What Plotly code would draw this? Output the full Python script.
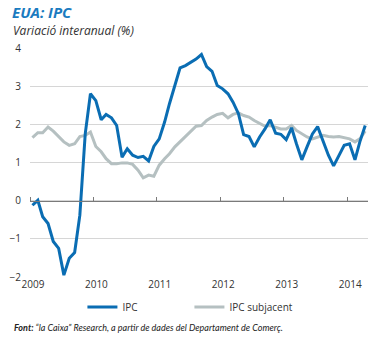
import plotly.graph_objects as go
import pandas as pd

months = pd.date_range("2009-01-01", periods=64, freq="MS") + pd.Timedelta(days=14)
months = [d.strftime("%Y-%m-%d") for d in months]

ipc = [-0.12, 0.01, -0.42, -0.60, -1.07, -1.25, -1.95, -1.51, -1.36, -0.38, 1.75, 2.80,
       2.62, 2.12, 2.26, 2.17, 1.97, 1.14, 1.36, 1.19, 1.13, 1.16, 1.04, 1.42,
       1.62, 2.06, 2.54, 3.02, 3.48, 3.54, 3.63, 3.71, 3.83, 3.51, 3.39, 3.02,
       2.93, 2.80, 2.58, 2.28, 1.73, 1.68, 1.41, 1.67, 1.88, 2.12, 1.77, 1.74,
       1.60, 1.91, 1.49, 1.07, 1.41, 1.75, 1.94, 1.54, 1.19, 0.91, 1.19, 1.45,
       1.49, 1.07, 1.54, 1.97]

core = [1.65, 1.78, 1.78, 1.93, 1.82, 1.68, 1.54, 1.45, 1.49, 1.68, 1.71, 1.80,
        1.42, 1.28, 1.10, 0.97, 0.97, 0.99, 0.99, 0.95, 0.80, 0.60, 0.67, 0.64,
        0.93, 1.10, 1.23, 1.41, 1.54, 1.68, 1.80, 1.95, 1.97, 2.10, 2.19, 2.26,
        2.29, 2.17, 2.26, 2.30, 2.23, 2.19, 2.10, 2.03, 1.95, 1.97, 1.93, 1.88,
        1.88, 1.97, 1.84, 1.75, 1.67, 1.62, 1.67, 1.71, 1.68, 1.67, 1.68, 1.65,
        1.62, 1.54, 1.62, 1.82]

year_ticks = ["2009-01-01", "2010-01-01", "2011-01-01", "2012-01-01", "2013-01-01", "2014-01-01"]
year_labels = ["2009", "2010", "2011", "2012", "2013", "2014"]
y_ticks = [-2, -1, 0, 1, 2, 3, 4]

BLUE = "#0a6db3"
GREY = "#b5c0c1"
FONT = "Open Sans"
FONT2 = "Lato"

fig = go.Figure()
fig.add_trace(go.Scatter(x=months, y=core, mode="lines", name="IPC subjacent",
                         line=dict(color=GREY, width=3), legendrank=2))
fig.add_trace(go.Scatter(x=months, y=ipc, mode="lines", name="IPC",
                         line=dict(color=BLUE, width=3), legendrank=1))
# invisible trace on overlay axis for zero-line ticks
fig.add_trace(go.Scatter(x=months, y=ipc, xaxis="x2", mode="lines",
                         line=dict(width=0), opacity=0, showlegend=False, hoverinfo="skip"))

fig.update_layout(
    width=381, height=338,
    margin=dict(l=29.5, r=13, t=48, b=61, autoexpand=False),
    paper_bgcolor="white", plot_bgcolor="white",
    font=dict(family=FONT, size=10, color="#333333"),
    xaxis=dict(type="date", range=["2009-01-01", "2014-05-01"],
               tickvals=year_ticks, ticktext=year_labels,
               showgrid=False, zeroline=False, showline=False, ticks="",
               tickfont=dict(size=10, color="#333333"), ticklabelshift=3),
    xaxis2=dict(type="date", range=["2009-01-01", "2014-05-01"], overlaying="x",
                anchor="free", position=1/3, side="top",
                tickvals=year_ticks, showticklabels=False,
                showline=True, linecolor="#7a7a7a", linewidth=1,
                ticks="outside", ticklen=4, tickcolor="#7a7a7a", tickwidth=1,
                showgrid=False, zeroline=False),
    yaxis=dict(range=[-2, 4], tickvals=y_ticks, showgrid=True,
               gridcolor="#d6d6d6", gridwidth=1, zeroline=False, showline=False,
               ticks="", tickfont=dict(size=10, color="#333333"), ticklabelstandoff=8),
    legend=dict(orientation="h", x=(82 - 29.5) / 338.5, xanchor="left",
                y=(277 - 307) / 229, yanchor="middle",
                font=dict(size=10, color="#333333"), entrywidth=62,
                bgcolor="rgba(0,0,0,0)"),
    showlegend=True,
)

fig.add_annotation(text="<b><i>EUA: IPC</i></b>", xref="paper", yref="paper",
                   x=(9 - 29.5) / 338.5, y=(277 - 12) / 229, xanchor="left", yanchor="middle",
                   showarrow=False, font=dict(family=FONT, size=15, color="#1a7bc0"))
fig.add_annotation(text="<i>Variació interanual (%)</i>", xref="paper", yref="paper",
                   x=(10 - 29.5) / 338.5, y=(277 - 31) / 229, xanchor="left", yanchor="middle",
                   showarrow=False, font=dict(family=FONT, size=12, color="#333333"))
fig.add_annotation(text="<b><i>Font:</i></b><i> “la Caixa” Research, a partir de dades del Departament de Comerç.</i>",
                   xref="paper", yref="paper",
                   x=(11 - 29.5) / 338.5, y=(277 - 327) / 229, xanchor="left", yanchor="middle",
                   showarrow=False, font=dict(family=FONT2, size=9, color="#222222"))

fig.write_html("out.html")
